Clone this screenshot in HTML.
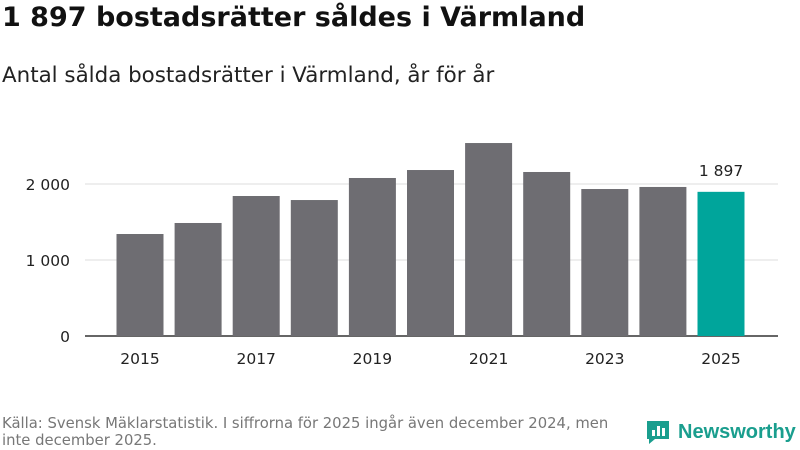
<!DOCTYPE html>
<html><head><meta charset="utf-8"><style>
body{margin:0;width:800px;height:450px;background:#fff;font-family:"DejaVu Sans","Liberation Sans",sans-serif;overflow:hidden;position:relative}
.t{position:absolute;left:2px;top:2px;font-size:27px;font-weight:bold;color:#111}
.s{position:absolute;left:2px;top:63px;font-size:21.4px;color:#222}
.src{position:absolute;left:2px;top:415px;font-size:14.8px;color:#777;width:625px;line-height:17px}
.logo{position:absolute;left:645px;top:419px;display:flex;align-items:center;color:#1a9e8e;font-weight:bold;font-size:20px;font-family:"Liberation Sans",sans-serif}
</style></head><body>
<div class="t">1 897 bostadsrätter såldes i Värmland</div>
<div class="s">Antal sålda bostadsrätter i Värmland, år för år</div>
<svg id="c" width="800" height="450" style="position:absolute;left:0;top:0"></svg>
<div class="src">Källa: Svensk Mäklarstatistik. I siffrorna för 2025 ingår även december 2024, men inte december 2025.</div>
<div class="logo"><svg width="26" height="26" style="margin-right:7px"><path d="M2 2h22v18H10l-6 5v-5H2z" fill="#1a9e8e"/><rect x="7" y="11" width="3" height="6" fill="#fff"/><rect x="12" y="7" width="3" height="10" fill="#fff"/><rect x="17" y="9" width="3" height="8" fill="#fff"/></svg>Newsworthy</div>
<script>
const years=[2015,2016,2017,2018,2019,2020,2021,2022,2023,2024,2025];
const values=[1342,1487,1842,1789,2079,2184,2539,2158,1934,1961,1897];
const yTicks=[0,1000,2000];
const yTickLabels=["0","1 000","2 000"];
const xTickYears=[2015,2017,2019,2021,2023,2025];
const ns="http://www.w3.org/2000/svg",svg=document.getElementById('c');
const y0=336,pxPer=0.076,x0=140,step=58.1,bw=47;
const Y=v=>y0-v*pxPer, X=i=>x0+i*step;
function mk(t,a,txt){const e=document.createElementNS(ns,t);for(const k in a)e.setAttribute(k,a[k]);if(txt!=null)e.textContent=txt;svg.appendChild(e);return e;}
yTicks.forEach((v,i)=>{
 const l=mk('line',{x1:85,x2:778,y1:Y(v),y2:Y(v),stroke:v===0?'#333':'#ddd','stroke-width':v===0?1.5:1});
 
 
 const t=mk('text',{x:70,y:Y(v)+6,'text-anchor':'end','font-size':15.5,fill:'#222'},yTickLabels[i]);
 
 
});
values.forEach((v,i)=>{
 const last=i===values.length-1;
 const r=mk('rect',{x:X(i)-bw/2,y:Y(v),width:bw,height:v*pxPer,fill:last?'#00a59b':'#6e6d72'});
 
 
 if(last){const t=mk('text',{x:X(i),y:Y(v)-16,'text-anchor':'middle','font-size':15.5,fill:'#222'},values[i].toLocaleString('sv-SE').replace(/\s/g,' '));
 
 }
});
xTickYears.forEach(yr=>{
 const i=years.indexOf(yr);
 const t=mk('text',{x:X(i),y:364,'text-anchor':'middle','font-size':15.5,fill:'#222'},String(yr));
 
 
});
</script>
</body></html>
